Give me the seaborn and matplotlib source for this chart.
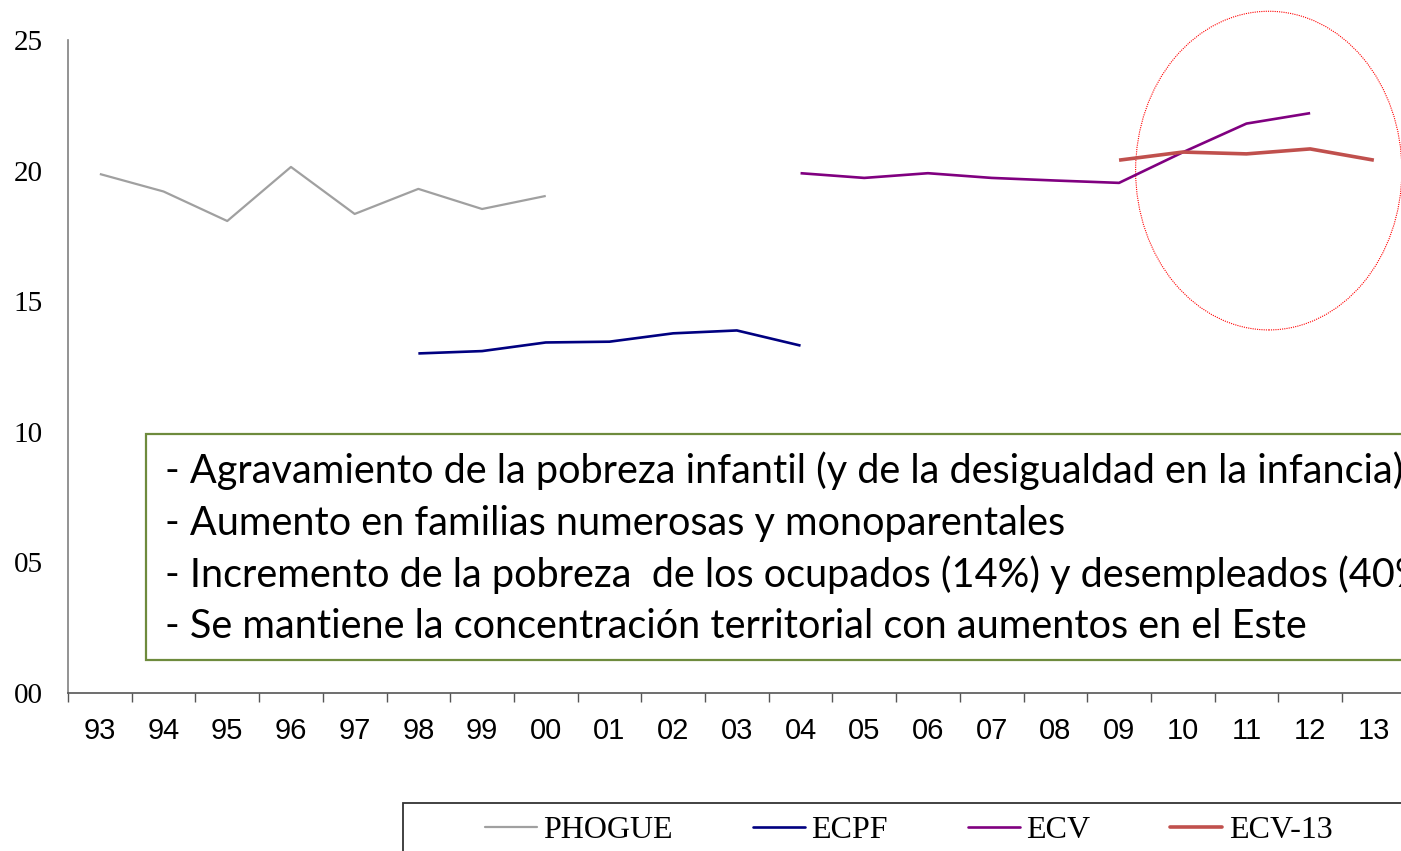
import numpy as np
import pandas as pd
import matplotlib
matplotlib.use("Agg")
import matplotlib.pyplot as plt
import seaborn as sns
from matplotlib.patches import Rectangle, Ellipse
from matplotlib.lines import Line2D
from matplotlib.ticker import FixedLocator

# ---------------- data ----------------
years = ["93", "94", "95", "96", "97", "98", "99", "00", "01", "02", "03",
         "04", "05", "06", "07", "08", "09", "10", "11", "12", "13"]

phogue_years = ["93", "94", "95", "96", "97", "98", "99", "00"]
phogue_vals = [19.87, 19.2, 18.07, 20.14, 18.34, 19.3, 18.53, 19.03]

ecpf_years = ["98", "99", "00", "01", "02", "03", "04"]
ecpf_vals = [13.0, 13.09, 13.42, 13.45, 13.77, 13.88, 13.3]

ecv_years = ["04", "05", "06", "07", "08", "09", "10", "11", "12"]
ecv_vals = [19.9, 19.72, 19.9, 19.72, 19.62, 19.53, 20.7, 21.8, 22.2]

ecv13_years = ["09", "10", "11", "12", "13"]
ecv13_vals = [20.4, 20.71, 20.64, 20.83, 20.4]

series_names = ["PHOGUE", "ECPF", "ECV", "ECV-13"]
series_colors = ["#A0A0A0", "#000080", "#800080", "#C0504D"]
series_widths = [1.6, 1.9, 1.9, 2.6]

y_ticks = [0, 5, 10, 15, 20, 25]
y_tick_labels = ["00", "05", "10", "15", "20", "25"]

notes = [
    "- Agravamiento de la pobreza infantil (y de la desigualdad en la infancia)",
    "- Aumento en familias numerosas y monoparentales",
    "- Incremento de la pobreza  de los ocupados (14%) y desempleados (40%)",
    "- Se mantiene la concentración territorial con aumentos en el Este",
]

# ---------------- frame ----------------
rows = []
for name, yrs, vals in [("PHOGUE", phogue_years, phogue_vals),
                        ("ECPF", ecpf_years, ecpf_vals),
                        ("ECV", ecv_years, ecv_vals),
                        ("ECV-13", ecv13_years, ecv13_vals)]:
    for yr, v in zip(yrs, vals):
        rows.append({"serie": name, "pos": years.index(yr), "valor": v})
df = pd.DataFrame(rows)

sns.set_style("white")
plt.rcParams.update({"text.color": "black", "xtick.color": "black",
                     "ytick.color": "black", "axes.labelcolor": "black"})
W, H = 1401, 851
fig = plt.figure(figsize=(W / 100, H / 100), dpi=100)
ax = fig.add_axes([68 / W, 1 - 693 / H, 1337.7 / W, 653 / H])

sns.lineplot(data=df, x="pos", y="valor", hue="serie", hue_order=series_names,
             palette=dict(zip(series_names, series_colors)), ax=ax,
             legend=False, sort=True, estimator=None)
for line, lw in zip(ax.get_lines(), series_widths):
    line.set_linewidth(lw)
    line.set_solid_capstyle("butt")

ax.set_xlim(-0.5, len(years) - 0.5)
ax.set_ylim(0, 25)
ax.set_xlabel("")
ax.set_ylabel("")

ax.set_xticks(range(len(years)))
ax.set_xticklabels(years, fontfamily="Liberation Sans", fontsize=21, color="black")
ax.xaxis.set_minor_locator(FixedLocator(np.arange(-0.5, len(years), 1.0)))
ax.tick_params(axis="x", which="major", length=0, pad=17)
ax.tick_params(axis="x", which="minor", length=6.5, width=1.0, color="#555555",
               direction="out", bottom=True)
ax.set_yticks(y_ticks)
ax.set_yticklabels(y_tick_labels, fontfamily="Liberation Serif", fontsize=21, color="black")
ax.tick_params(axis="y", length=0, pad=18)

for s in ["top", "right"]:
    ax.spines[s].set_visible(False)
ax.spines["left"].set_color("#808080")
ax.spines["left"].set_linewidth(1.2)
ax.spines["bottom"].set_color("#555555")
ax.spines["bottom"].set_linewidth(1.2)

# red dotted ellipse
ell = Ellipse((18.35, 20.0), width=4.18, height=12.2, fill=False,
              edgecolor="red", linestyle=(0, (1, 1)), linewidth=0.8,
              clip_on=False)
ax.add_patch(ell)

# notes box
box = Rectangle((146 / W, 1 - 660 / H), 1.2, 226 / H, transform=fig.transFigure,
                fill=True, facecolor="white", edgecolor="#6E8B3D", linewidth=1.6,
                clip_on=False, zorder=5)
fig.patches.append(box)
baselines = [483, 535, 587, 638]
for txt, b in zip(notes, baselines):
    fig.text(165 / W, 1 - b / H, txt, fontfamily="Lato", fontsize=28.5,
             va="baseline", ha="left", color="black", zorder=6)

# legend frame
lframe = Rectangle((403 / W, -0.1), 1.0, (851 - 803) / H + 0.1,
                   transform=fig.transFigure, fill=False, edgecolor="#333333",
                   linewidth=1.3, clip_on=False)
fig.patches.append(lframe)

handles = [Line2D([], [], color=c, linewidth=lw) for c, lw in zip(series_colors, series_widths)]
leg = fig.legend(handles, series_names, loc="center left",
                 bbox_to_anchor=(485 / W, 1 - 830 / H), ncol=4, frameon=False,
                 prop={"family": "Liberation Serif", "size": 23},
                 handlelength=1.63, handletextpad=0.2, columnspacing=2.5,
                 borderpad=0, borderaxespad=0, labelcolor="black")

fig.savefig("out.png", dpi=100)
